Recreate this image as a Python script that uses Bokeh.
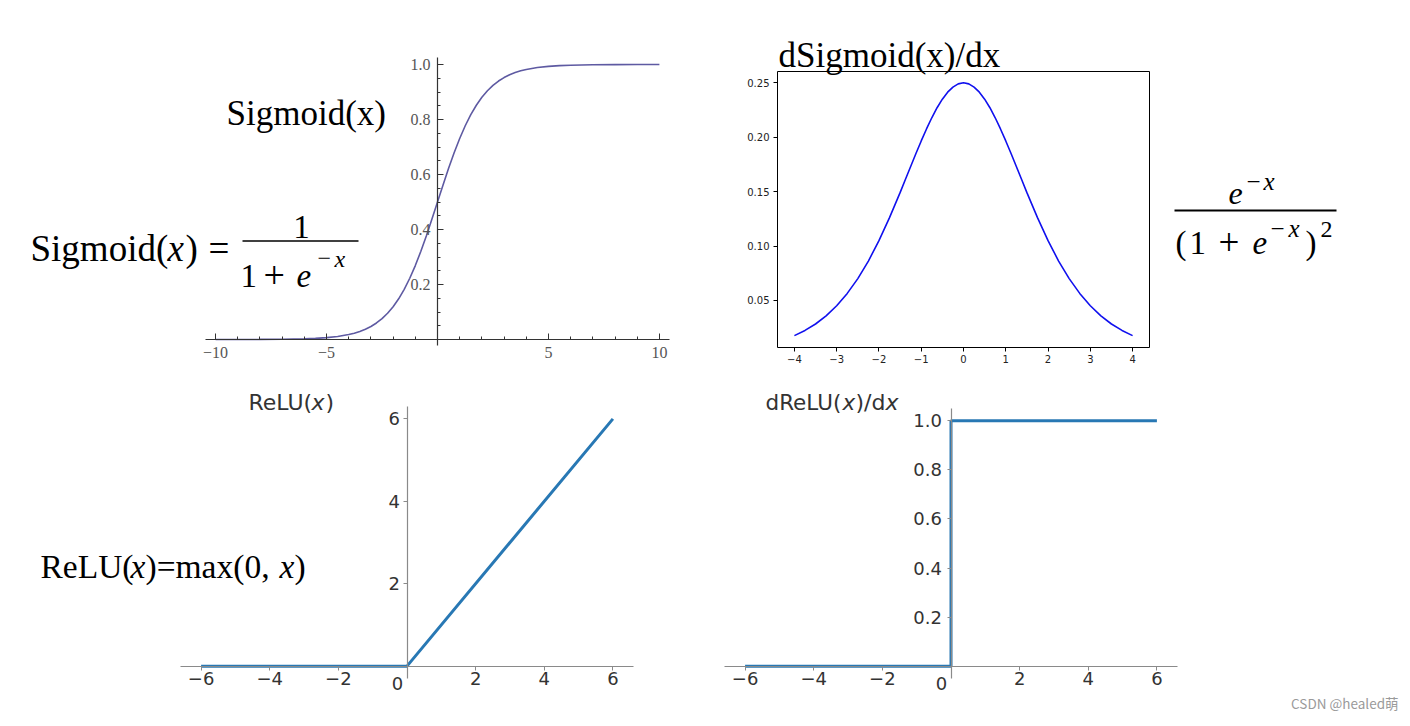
from bokeh.plotting import figure
from bokeh.models import Range1d, LinearAxis, FixedTicker, CustomJSTickFormatter, Label
from bokeh.layouts import row, column
from bokeh.embed import file_html
from bokeh.resources import INLINE

# ---------------- data ----------------
sig_x = [-10, -9, -8, -7, -6, -5.5, -5, -4.5, -4, -3.75, -3.5, -3.25, -3, -2.75, -2.5, -2.25,
         -2, -1.75, -1.5, -1.25, -1, -0.75, -0.5, -0.25, 0, 0.25, 0.5, 0.75, 1, 1.25, 1.5,
         1.75, 2, 2.25, 2.5, 2.75, 3, 3.25, 3.5, 3.75, 4, 4.5, 5, 5.5, 6, 7, 8, 9, 10]
sig_y = [0.0000, 0.0001, 0.0003, 0.0009, 0.0025, 0.0041, 0.0067, 0.0110, 0.0180, 0.0230, 0.0293,
         0.0373, 0.0474, 0.0601, 0.0759, 0.0953, 0.1192, 0.1480, 0.1824, 0.2227, 0.2689, 0.3208,
         0.3775, 0.4378, 0.5000, 0.5622, 0.6225, 0.6792, 0.7311, 0.7773, 0.8176, 0.8520, 0.8808,
         0.9047, 0.9241, 0.9399, 0.9526, 0.9627, 0.9707, 0.9770, 0.9820, 0.9890, 0.9933, 0.9959,
         0.9975, 0.9991, 0.9997, 0.9999, 1.0000]

dsig_x = [-4, -3.75, -3.5, -3.25, -3, -2.75, -2.5, -2.25, -2, -1.75, -1.5, -1.375, -1.25, -1.125,
          -1, -0.875, -0.75, -0.625, -0.5, -0.375, -0.25, -0.125, 0, 0.125, 0.25, 0.375, 0.5,
          0.625, 0.75, 0.875, 1, 1.125, 1.25, 1.375, 1.5, 1.75, 2, 2.25, 2.5, 2.75, 3, 3.25,
          3.5, 3.75, 4]
dsig_y = [0.0177, 0.0225, 0.0284, 0.0359, 0.0452, 0.0565, 0.0701, 0.0862, 0.1050, 0.1261, 0.1491,
          0.1611, 0.1731, 0.1850, 0.1966, 0.2076, 0.2179, 0.2271, 0.2350, 0.2414, 0.2461, 0.2490,
          0.2500, 0.2490, 0.2461, 0.2414, 0.2350, 0.2271, 0.2179, 0.2076, 0.1966, 0.1850, 0.1731,
          0.1611, 0.1491, 0.1261, 0.1050, 0.0862, 0.0701, 0.0565, 0.0452, 0.0359, 0.0284, 0.0225,
          0.0177]

relu_x = [-6, 0, 6]
relu_y = [0, 0, 6]

drelu_x = [-6, 0, 0, 6]
drelu_y = [0, 0, 1, 1]

sig_xticks = [-10, -5, 5, 10]
sig_xminor = [-10, -9, -8, -7, -6, -5, -4, -3, -2, -1, 1, 2, 3, 4, 5, 6, 7, 8, 9, 10]
sig_yticks = [0.2, 0.4, 0.6, 0.8, 1.0]
sig_yminor = [0.05, 0.1, 0.15, 0.2, 0.25, 0.3, 0.35, 0.4, 0.45, 0.5, 0.55, 0.6, 0.65, 0.7,
              0.75, 0.8, 0.85, 0.9, 0.95, 1.0]
dsig_xticks = [-4, -3, -2, -1, 0, 1, 2, 3, 4]
dsig_yticks = [0.05, 0.10, 0.15, 0.20, 0.25]
relu_xticks = [-6, -4, -2, 0, 2, 4, 6]
relu_yticks = [2, 4, 6]
drelu_yticks = [0.2, 0.4, 0.6, 0.8, 1.0]

# ---------------- helpers ----------------
SERIF = "Liberation Serif"
SANS = "DejaVu Sans"
MINUS_FMT = "return (tick < 0 ? '\\u2212' : '') + Math.abs(tick);"
MINUS_FMT_NO0 = "return tick == 0 ? '' : ((tick < 0 ? '\\u2212' : '') + Math.abs(tick));"


class Panel:
    """A figure covering (ox, oy, w, h) of the picture; its plot area sits at (fl, ft, fw, fh)
    with data ranges xr, yr. The frame fills the whole figure so that texts are never clipped."""

    def __init__(self, ox, oy, w, h, fl, ft, fw, fh, xr, yr):
        self.fl, self.ft, self.fw, self.fh, self.xr, self.yr = fl, ft, fw, fh, xr, yr
        sx = (xr[1] - xr[0]) / fw
        sy = (yr[1] - yr[0]) / fh
        x_start = xr[0] + (ox - fl) * sx
        x_end = xr[0] + (ox + w - fl) * sx
        y_end = yr[1] + (ft - oy) * sy
        y_start = yr[0] - (oy + h - ft - fh) * sy
        p = figure(width=w, height=h, x_range=Range1d(x_start, x_end), y_range=Range1d(y_start, y_end),
                   x_axis_location=None, y_axis_location=None, toolbar_location=None,
                   output_backend="svg", title=None, min_border=0,
                   min_border_left=0, min_border_right=0, min_border_top=0, min_border_bottom=0)
        p.grid.visible = False
        p.outline_line_color = None
        p.background_fill_color = "white"
        p.border_fill_color = "white"
        self.fig = p

    def pt(self, rx, ry):
        x0, x1 = self.xr
        y0, y1 = self.yr
        x = x0 + (rx - self.fl) / self.fw * (x1 - x0)
        y = y1 - (ry - self.ft) / self.fh * (y1 - y0)
        return x, y

    def text(self, rx, ry, txt, size, font=SERIF, style="normal", color="black", align="left"):
        x, y = self.pt(rx, ry)
        self.fig.add_layout(Label(x=x, y=y, text=txt, text_font=font, text_font_style=style,
                                  text_font_size=f"{size}px", text_color=color,
                                  text_align=align, text_baseline="alphabetic"))

    def bar(self, rx0, rx1, ry, width=1.6, color="black"):
        xa, ya = self.pt(rx0, ry)
        xb, yb = self.pt(rx1, ry)
        self.fig.segment(x0=[xa], y0=[ya], x1=[xb], y1=[yb], line_color=color, line_width=width)


def style_axis(a, color, width, tin, tout, mtin, mtout, font, size, lcolor, standoff):
    a.axis_line_color = color
    a.axis_line_width = width
    a.major_tick_line_color = color
    a.minor_tick_line_color = color
    a.major_tick_in = tin
    a.major_tick_out = tout
    a.minor_tick_in = mtin
    a.minor_tick_out = mtout
    a.major_label_text_font = font
    a.major_label_text_font_size = f"{size}px"
    a.major_label_text_color = lcolor
    a.major_label_standoff = standoff


# ---------------- top-left: Sigmoid (Mathematica style) ----------------
tl = Panel(0, 0, 700, 375, 204, 50, 466, 300, (-10.5, 10.5), (-0.04, 1.051))
p = tl.fig
ax = LinearAxis(fixed_location=0, bounds=(-10.45, 10.45),
                ticker=FixedTicker(ticks=sig_xticks, minor_ticks=sig_xminor),
                formatter=CustomJSTickFormatter(code=MINUS_FMT))
ay = LinearAxis(fixed_location=0, bounds=(-0.02, 1.027),
                ticker=FixedTicker(ticks=sig_yticks, minor_ticks=sig_yminor),
                formatter=CustomJSTickFormatter(code="return tick.toFixed(1);"))
style_axis(ax, "#333333", 1.2, 6, 0, 3, 0, SERIF, 16, "#555555", 7)
style_axis(ay, "#333333", 1.2, 6, 0, 3, 0, SERIF, 16, "#555555", 7)
p.add_layout(ax, "below")
p.add_layout(ay, "left")
p.line(sig_x, sig_y, line_color="#5e5aa2", line_width=1.6)

tl.text(226, 113, "Sigmoid(x)", 35)
tl.text(30, 248, "Sigmoid(", 37)
tl.text(167, 248, "x", 37, style="italic")
tl.text(185, 248, ")", 37)
tl.text(208, 248, "=", 37)
tl.text(301, 226, "1", 33, align="center")
tl.bar(242, 358, 240.5)
tl.text(240, 275, "1", 33)
tl.text(263, 275, "+", 38)
tl.text(296, 275, "e", 33, style="italic")
tl.text(317, 258, "\u2212", 24)
tl.text(334, 258, "x", 24, style="italic")

# ---------------- top-right: dSigmoid/dx (matplotlib style box) ----------------
XR2, YR2 = (-4.4, 4.4), (0.0068, 0.2604)
tr = Panel(700, 0, 708, 375, 777, 71, 372, 276, XR2, YR2)
p = tr.fig
bx = LinearAxis(fixed_location=YR2[0], bounds=XR2, ticker=FixedTicker(ticks=dsig_xticks, minor_ticks=[]),
                formatter=CustomJSTickFormatter(code=MINUS_FMT))
by = LinearAxis(fixed_location=XR2[0], bounds=YR2, ticker=FixedTicker(ticks=dsig_yticks, minor_ticks=[]),
                formatter=CustomJSTickFormatter(code="return tick.toFixed(2);"))
tx = LinearAxis(fixed_location=YR2[1], bounds=XR2, ticker=FixedTicker(ticks=[], minor_ticks=[]))
ty = LinearAxis(fixed_location=XR2[1], bounds=YR2, ticker=FixedTicker(ticks=[], minor_ticks=[]))
style_axis(bx, "black", 1, 0, 4, 0, 0, SANS, 10, "#222222", 3)
style_axis(by, "black", 1, 0, 4, 0, 0, SANS, 10, "#222222", 4)
style_axis(tx, "black", 1, 0, 0, 0, 0, SANS, 10, "#222222", 0)
style_axis(ty, "black", 1, 0, 0, 0, 0, SANS, 10, "#222222", 0)
p.add_layout(bx, "below")
p.add_layout(by, "left")
p.add_layout(tx, "above")
p.add_layout(ty, "right")
p.line(dsig_x, dsig_y, line_color="#1010ee", line_width=1.6)
tr.text(778, 55, "dSigmoid(x)/dx", 35)

tr.text(1228, 193, "e", 32, style="italic")
tr.text(1246, 181, "\u2212", 25)
tr.text(1263, 181, "x", 25, style="italic")
tr.bar(1174, 1336, 210, width=1.8)
tr.text(1175, 242, "(", 33)
tr.text(1189, 242, "1", 33)
tr.text(1218, 242, "+", 37)
tr.text(1252, 242, "e", 33, style="italic")
tr.text(1270, 228, "\u2212", 25)
tr.text(1288, 228, "x", 25, style="italic")
tr.text(1305, 242, ")", 33)
tr.text(1320, 229, "2", 24)


# ---------------- bottom panels: spines through the origin ----------------
def spine_axes(panel, xr, yr, yticks, yfmt, ystand):
    p = panel.fig
    ax = LinearAxis(fixed_location=0, bounds=xr, ticker=FixedTicker(ticks=relu_xticks, minor_ticks=[]),
                    formatter=CustomJSTickFormatter(code=MINUS_FMT_NO0))
    ay = LinearAxis(fixed_location=0, bounds=yr, ticker=FixedTicker(ticks=yticks, minor_ticks=[]),
                    formatter=CustomJSTickFormatter(code=yfmt))
    style_axis(ax, "#8a8a8a", 1.2, 0, 4, 0, 0, SANS, 18, "#333333", 2)
    style_axis(ay, "#8a8a8a", 1.2, 0, 4, 0, 0, SANS, 18, "#333333", ystand)
    p.add_layout(ax, "below")
    p.add_layout(ay, "left")


XR3, YR3 = (-6.6, 6.6), (-0.3, 6.3)
bl = Panel(0, 375, 700, 349, 180, 406, 453, 272, XR3, YR3)
spine_axes(bl, XR3, YR3, relu_yticks, "return tick.toFixed(0);", 3)
bl.fig.line(relu_x, relu_y, line_color="#2878b4", line_width=3)
bl.text(397, 683, "0", 18, font=SANS, color="#333333", align="center")
bl.text(248, 402, "ReLU(", 22, font=SANS, color="#333333")
bl.text(311, 402, "x", 22, font=SANS, style="italic", color="#333333")
bl.text(325, 402, ")", 22, font=SANS, color="#333333")
bl.text(40, 566, "ReLU(", 33.5)
bl.text(130, 566, "x", 33.5, style="italic")
bl.text(145, 566, ")=max(0,", 33.5)
bl.text(279, 566, "x", 33.5, style="italic")
bl.text(294, 566, ")", 33.5)

XR4, YR4 = (-6.6, 6.6), (-0.05, 1.05)
br = Panel(700, 375, 708, 349, 724, 408, 453, 270, XR4, YR4)
spine_axes(br, XR4, YR4, drelu_yticks, "return tick.toFixed(1);", 5)
br.fig.line(drelu_x, drelu_y, line_color="#2878b4", line_width=3)
br.text(941, 683, "0", 18, font=SANS, color="#333333", align="center")
br.text(765, 402, "dReLU(", 21.5, font=SANS, color="#333333")
br.text(842, 402, "x", 21.5, font=SANS, style="italic", color="#333333")
br.text(855, 402, ")/d", 22, font=SANS, color="#333333")
br.text(885, 402, "x", 22, font=SANS, style="italic", color="#333333")
br.text(1398, 702, "CSDN @healed萌", 13.5, font="Noto Sans CJK SC", color="#9a9a9a", align="right")

layout = column(row(tl.fig, tr.fig), row(bl.fig, br.fig))

open("out.html", "w").write(file_html(layout, INLINE))
